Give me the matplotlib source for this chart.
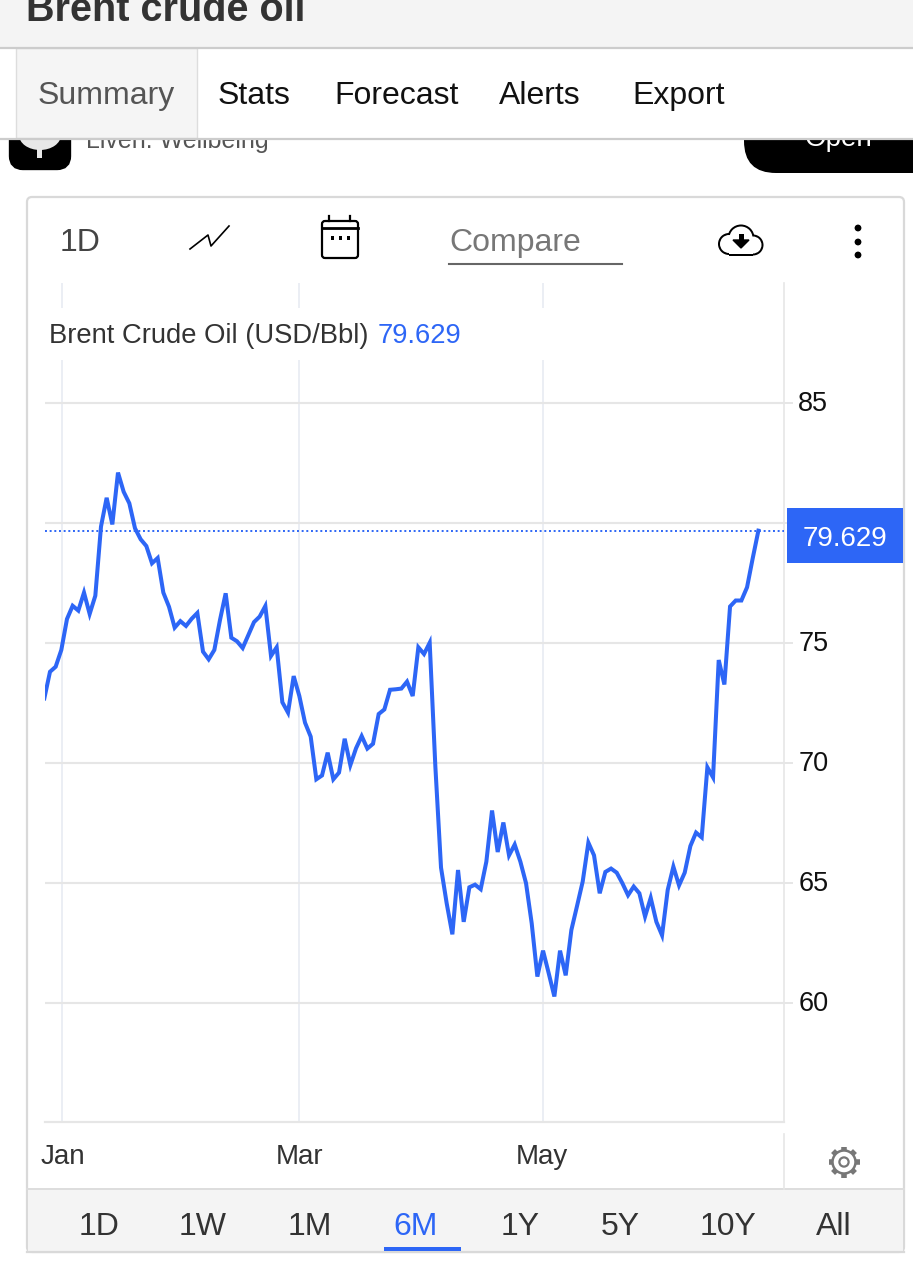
import matplotlib
matplotlib.use("Agg")
import matplotlib.pyplot as plt
from matplotlib.patches import Rectangle, FancyBboxPatch, Circle, Ellipse
from matplotlib.transforms import ScaledTranslation
import numpy as np

plt.rcParams['font.family'] = ['Liberation Sans', 'DejaVu Sans']

# values, one per trading day
prices = [72.69, 73.80, 74.01, 74.71, 76.00, 76.55, 76.35, 77.10, 76.21, 76.97,
          79.85, 81.05, 79.94, 82.10, 81.30, 80.82, 79.78, 79.32, 79.04, 78.32,
          78.54, 77.10, 76.51, 75.64, 75.91, 75.71, 76.01, 76.25, 74.64, 74.32,
          74.71, 75.96, 77.07, 75.22, 75.07, 74.79, 75.33, 75.87, 76.10, 76.54,
          74.46, 74.82, 72.53, 72.10, 73.62, 72.79, 71.68, 71.10, 69.32, 69.48,
          70.43, 69.32, 69.60, 71.01, 69.91, 70.61, 71.12, 70.60, 70.80, 72.04,
          72.23, 73.05, 73.07, 73.10, 73.39, 72.79, 74.82, 74.54, 75.01,
          69.85, 65.64, 64.15, 62.86, 65.54, 63.38, 64.82, 64.93, 64.74, 65.89,
          68.02, 66.29, 67.52, 66.15, 66.60, 65.89, 64.99, 63.32, 61.10, 62.18,
          61.24, 60.27, 62.18, 61.15, 63.04, 64.04, 65.06, 66.68, 66.15, 64.57,
          65.46, 65.60, 65.43, 64.99, 64.49, 64.85, 64.57, 63.60, 64.38, 63.38,
          62.82, 64.71, 65.68, 64.90, 65.43, 66.54, 67.10, 66.90, 69.82, 69.40,
          74.29, 73.27, 76.52, 76.77, 76.77, 77.32, 78.53, 79.68]
y_ticks = [60, 65, 70, 75, 80, 85]
y_labels = ['60', '65', '70', '75', '', '85']
month_pos = [3.2, 45, 88]
month_names = ['Jan', 'Mar', 'May']
tabs = ['Summary', 'Stats', 'Forecast', 'Alerts', 'Export']
tab_x = [38, 218, 334, 499, 632]
ranges = ['1D', '1W', '1M', '6M', '1Y', '5Y', '10Y', 'All']
range_x = [99, 203, 310, 416, 520, 620, 728, 834]

BLUE = '#2d66f6'
GRID = '#e6e6e6'
W, H = 913, 1280

fig = plt.figure(figsize=(W / 100, H / 100), dpi=100, facecolor='white')

# page furniture, drawn in pixel coordinates
ui = fig.add_axes([0, 0, 1, 1], zorder=0)
ui.set_xlim(0, W)
ui.set_ylim(H, 0)
ui.axis('off')

# advert strip, cut off by the tab bar
ui.add_patch(FancyBboxPatch((13, 110), 54, 56, boxstyle='round,pad=0,rounding_size=10',
                            fc='black', ec='black', lw=6, zorder=1))
ui.add_patch(Ellipse((40, 135), 42, 30, fc='#e8e8e8', ec='none', zorder=2))
ui.add_patch(Rectangle((37, 148), 5, 10, fc='#e8e8e8', ec='none', zorder=2))
ui.text(86, 141, 'Liven: Wellbeing', fontsize=18, color='#555555', va='center', zorder=2)
ui.add_patch(FancyBboxPatch((744, 100), 240, 73, boxstyle='round,pad=0,rounding_size=32',
                            fc='black', ec='none', zorder=1))
ui.text(838, 139, 'Open', fontsize=20, color='white', ha='center', va='center', zorder=2)

# title bar and tabs
ui.add_patch(Rectangle((0, 48), W, 90, fc='white', ec='none', zorder=3))
ui.add_patch(Rectangle((0, 0), W, 47, fc='#f4f4f4', ec='none', zorder=4))
ui.plot([0, W], [47.5, 47.5], color='#cccccc', lw=1.6, zorder=5)
ui.plot([0, W], [138.5, 138.5], color='#cccccc', lw=1.6, zorder=5)
ui.text(26, 21, 'Brent crude oil', fontsize=28.5, fontweight='bold', color='#333333', zorder=5)
ui.add_patch(Rectangle((16, 48), 181, 90, fc='#f5f5f5', ec='#dddddd', lw=1, zorder=4))
for name, x in zip(tabs, tab_x):
    ui.text(x, 96, name, fontsize=23, va='center', zorder=5,
            color='#555555' if name == 'Summary' else '#111111')

# card
ui.add_patch(FancyBboxPatch((27, 197), 877, 1055, boxstyle='round,pad=0,rounding_size=5',
                            fc='white', ec='#d9d9d9', lw=1.6, zorder=3))
ui.add_patch(Rectangle((28, 1189), 875, 62, fc='#f4f4f4', ec='none', zorder=4))
ui.plot([27, 904], [1189, 1189], color='#dddddd', lw=1.4, zorder=5)
ui.plot([27, 904], [1252, 1252], color='#d9d9d9', lw=1.6, zorder=5)
ui.plot([784, 784], [1134, 1189], color=GRID, lw=1.2, zorder=5)

# toolbar
ui.text(60, 243, '1D', fontsize=23, color='#444444', va='center', zorder=5)
ui.plot([190, 208, 211, 229], [249, 235, 246, 226], color='black', lw=1.2, zorder=5)
ui.add_patch(FancyBboxPatch((322, 221), 36, 37, boxstyle='round,pad=0,rounding_size=3',
                            fc='white', ec='black', lw=1.6, zorder=5))
ui.plot([322, 358], [228, 228], color='black', lw=2, zorder=6)
for x in [329, 350]:
    ui.plot([x, x], [216, 221], color='black', lw=1.6, zorder=6)
for x in [332, 340, 348]:
    ui.add_patch(Rectangle((x - 1.5, 236), 3, 3.5, fc='black', ec='none', zorder=6))
ui.text(449, 243, 'Compare', fontsize=23, color='#777777', va='center', zorder=5)
ui.plot([449, 622], [264, 264], color='#666666', lw=1.5, zorder=5)

# cloud icon
for cx, cy, r in [(729, 244, 11), (741, 238, 13.5), (753, 245, 10.5)]:
    ui.add_patch(Circle((cx, cy), r, fc='black', ec='none', zorder=5))
ui.add_patch(Rectangle((729, 243), 24, 12.5, fc='black', ec='none', zorder=5))
for cx, cy, r in [(729, 244, 9), (741, 238, 11.5), (753, 245, 8.5)]:
    ui.add_patch(Circle((cx, cy), r, fc='white', ec='none', zorder=6))
ui.add_patch(Rectangle((729, 240), 24, 13.5, fc='white', ec='none', zorder=6))
ui.add_patch(Rectangle((738.5, 234), 5, 7, fc='black', ec='none', zorder=7))
ui.fill([733, 749, 741], [240, 240, 248], color='black', zorder=7)
for y in [228, 242, 255]:
    ui.add_patch(Circle((858, y), 3.4, fc='black', ec='none', zorder=5))

# month labels, settings gear, range buttons
for pos, name in zip([63, 300, 542], month_names):
    ui.text(pos, 1157, name, fontsize=20, color='#333333', ha='center', va='center', zorder=5)
for a in np.arange(0, 2 * np.pi, np.pi / 4):
    ui.plot([844 + 10 * np.sin(a), 844 + 15.5 * np.sin(a)],
            [1162 - 10 * np.cos(a), 1162 - 15.5 * np.cos(a)],
            color='#777777', lw=4, solid_capstyle='butt', zorder=5)
ui.add_patch(Circle((844, 1162), 11.5, fc='white', ec='#777777', lw=1.8, zorder=6))
ui.add_patch(Circle((844, 1162), 4.6, fc='white', ec='#777777', lw=1.6, zorder=7))
for name, x in zip(ranges, range_x):
    ui.text(x, 1227, name, fontsize=23, ha='center', va='center', zorder=6,
            color=BLUE if name == '6M' else '#333333')
ui.add_patch(Rectangle((384, 1247), 77, 4, fc=BLUE, ec='none', zorder=6))

# price chart: 283..1122 px tall, 45..784 px wide
ax = fig.add_axes([45 / W, 1 - 1122 / H, (784 - 45) / W, (1122 - 283) / H], zorder=1)
ax.patch.set_alpha(0)
ax.plot(range(len(prices)), prices, color=BLUE, lw=2.9, solid_joinstyle='miter', zorder=4)
ax.axhline(prices[-1], color=BLUE, lw=1.4, ls=(0, (1, 1.4)), zorder=3)
ax.set_xlim(0.12, 130.52)
ax.set_ylim(55.04, 90)
ax.set_xticks(month_pos)
ax.set_xticklabels([])
ax.set_yticks(y_ticks)
ax.set_yticklabels(y_labels)
ax.yaxis.tick_right()
ax.tick_params(axis='x', length=0)
ax.tick_params(axis='y', length=6.5, width=1.4, color=GRID, labelsize=19.5,
               labelcolor='#111111', pad=3)
for lab in ax.get_yticklabels():
    lab.set_transform(lab.get_transform() + ScaledTranslation(1 / 100, 2 / 100, fig.dpi_scale_trans))
ax.grid(axis='y', color=GRID, lw=1.5, zorder=1)
ax.grid(axis='x', color='#e9edf3', lw=1.3, zorder=1)
ax.set_axisbelow(True)
for side in ['left', 'top']:
    ax.spines[side].set_visible(False)
ax.spines['right'].set_color(GRID)
ax.spines['right'].set_linewidth(1.2)
ax.spines['bottom'].set_color(GRID)
ax.spines['bottom'].set_linewidth(1.6)

# legend strip hides the gridlines behind it
ui_t = ui.transData
ax.add_patch(Rectangle((45, 308), 735, 52, transform=ui_t, fc='white', ec='none', zorder=2))
ax.text(49, 336, 'Brent Crude Oil (USD/Bbl)', transform=ui_t, fontsize=19.7, color='#333333',
        va='center', zorder=5)
ax.text(378, 336, '79.629', transform=ui_t, fontsize=19.7, color=BLUE, va='center', zorder=5)

# last price tag
ax.add_patch(Rectangle((787, 508), 116, 55, transform=ui_t, fc=BLUE, ec='none', zorder=5,
                       clip_on=False))
ax.text(845, 539, '79.629', transform=ui_t, fontsize=20, color='white', ha='center',
        va='center', zorder=6)

fig.savefig('out.png', dpi=100)
